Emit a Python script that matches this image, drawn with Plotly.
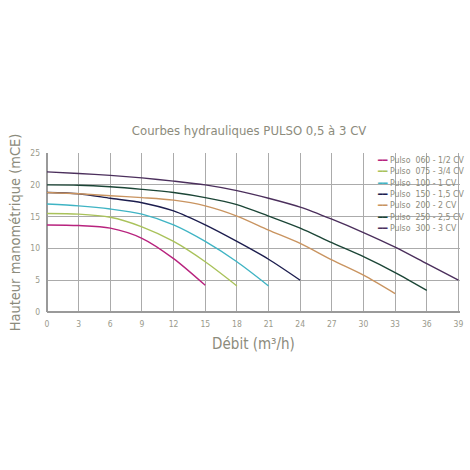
import plotly.graph_objects as go

# débit (m3/h) / hauteur (mCE), one pair of lists per pump
models = ["Pulso  060 - 1/2 CV", "Pulso  075 - 3/4 CV", "Pulso  100 - 1 CV",
          "Pulso  150 - 1,5 CV", "Pulso  200 - 2 CV", "Pulso  250 - 2,5 CV",
          "Pulso  300 - 3 CV"]
colors = ["#b8237e", "#a9c25a", "#3fb4c4", "#1c1d4e", "#c99460", "#1b4536", "#4b2f5c"]

q060 = [0, 3, 6, 9, 12, 15]
h060 = [13.7, 13.6, 13.2, 11.6, 8.4, 4.2]
q075 = [0, 3, 6, 9, 12, 15, 18]
h075 = [15.5, 15.4, 14.9, 13.4, 11.1, 7.9, 4.1]
q100 = [0, 3, 6, 9, 12, 15, 18, 21]
h100 = [17.0, 16.7, 16.2, 15.4, 13.7, 11.1, 7.9, 4.1]
q150 = [0, 3, 6, 9, 12, 15, 18, 21, 24]
h150 = [18.8, 18.6, 17.9, 17.2, 15.9, 13.7, 11.1, 8.3, 5.0]
q200 = [0, 3, 6, 9, 12, 15, 18, 21, 24, 27, 30, 33]
h200 = [18.8, 18.6, 18.3, 18.0, 17.6, 16.7, 15.1, 12.9, 10.8, 8.2, 5.8, 2.9]
q250 = [0, 3, 6, 9, 12, 15, 18, 21, 24, 27, 30, 33, 36]
h250 = [20.0, 19.95, 19.7, 19.3, 18.8, 18.0, 16.9, 15.1, 13.2, 10.9, 8.7, 6.2, 3.4]
q300 = [0, 3, 6, 9, 12, 15, 18, 21, 24, 27, 30, 33, 36, 39]
h300 = [22.05, 21.8, 21.5, 21.1, 20.6, 20.0, 19.1, 17.9, 16.5, 14.6, 12.5, 10.2, 7.6, 5.0]

x_ticks = list(range(0, 40, 3))
y_ticks = [0, 5, 10, 15, 20, 25]

series = [(q060, h060), (q075, h075), (q100, h100), (q150, h150),
          (q200, h200), (q250, h250), (q300, h300)]

grey = "#8c8b7c"
font = "DejaVu Sans Condensed, sans-serif"

fig = go.Figure()
for name, col, (q, h) in zip(models, colors, series):
    fig.add_trace(go.Scatter(x=q, y=h, name=name, mode="lines",
                             line=dict(color=col, width=1.4, shape="spline", smoothing=0.8),
                             showlegend=False))

# white box behind the key, hides the grid there
fig.add_shape(type="rect", xref="x", yref="paper", x0=30.8, x1=40, y0=0.47, y1=1.02,
              fillcolor="white", line_width=0, layer="between")

key = "<br>".join(
    f'<span style="color:{c}">━━</span> {n.replace("  ", "&nbsp;&nbsp;").replace(" - ", "&nbsp;-&nbsp;")}'
    for n, c in zip(models, colors))
fig.add_annotation(text=key, xref="paper", yref="paper", x=0.795, y=1.0,
                   xanchor="left", yanchor="top", align="left", showarrow=False,
                   font=dict(size=8.7, color=grey, family=font))

fig.update_layout(
    width=470, height=470,
    margin=dict(l=47, r=7, t=153, b=158),
    paper_bgcolor="white", plot_bgcolor="white",
    title=dict(text="Courbes hydrauliques PULSO 0,5 à 3 CV", x=0.53, y=0.723,
               xanchor="center", yanchor="middle",
               font=dict(size=13, color=grey, family=font)),
    font=dict(family=font, color=grey),
)
fig.update_xaxes(range=[0, 39.15], tickvals=x_ticks, showgrid=True, gridcolor="#ababab",
                 gridwidth=1, zeroline=True, zerolinecolor="#9a9a9a", showline=False,
                 tickfont=dict(size=8.5, color="#9a9a8c"), ticks="", ticklabelstandoff=5,
                 title=dict(text="Débit (m³/h)", standoff=10,
                            font=dict(size=15, color=grey, family=font)))
fig.update_yaxes(range=[0, 25.02], tickvals=y_ticks, showgrid=True, gridcolor="#ababab",
                 gridwidth=1, zeroline=True, zerolinecolor="#9a9a9a", showline=False,
                 tickfont=dict(size=8.5, color="#9a9a8c"), ticks="", ticklabelstandoff=6,
                 title=dict(text="Hauteur manométrique (mCE)", standoff=6,
                            font=dict(size=14.5, color=grey, family=font)))

# page body has a default 8px margin that would push the 470px figure off the window
fig.write_html("out.html", config={"displayModeBar": False},
               post_script="document.body.style.margin = '0';")
